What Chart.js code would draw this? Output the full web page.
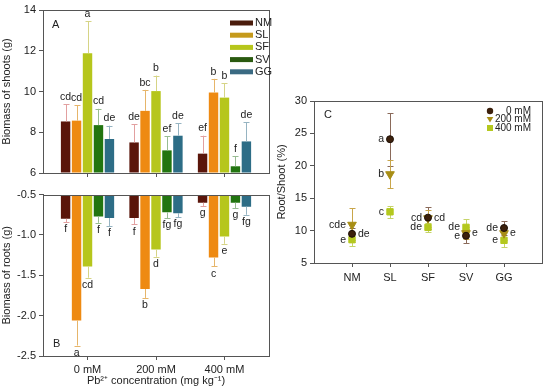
<!DOCTYPE html>
<html>
<head>
<meta charset="utf-8">
<script src="https://cdn.jsdelivr.net/npm/chart.js@4"></script>
<style>
  body { margin: 0; background: #fff; width: 550px; height: 391px; position: relative; overflow: hidden; }
  canvas { position: absolute; }
</style>
</head>
<body>
<canvas id="shoots" width="285" height="185" style="left:0;top:0"></canvas>
<canvas id="roots" width="285" height="206" style="left:0;top:185px"></canvas>
<canvas id="ratio" width="275" height="220" style="left:275px;top:90px"></canvas>
<script>
// groups and plants
const groups = ["0 mM", "200 mM", "400 mM"];
const plants = ["NM", "SL", "SF", "SV", "GG"];

// shoot biomass (g), per plant over the 3 Pb levels
const shootNM = [8.53, 7.5, 6.95];
const shootSL = [8.57, 9.05, 9.95];
const shootSF = [11.88, 10.02, 9.7];
const shootSV = [8.35, 7.11, 6.33];
const shootGG = [7.67, 7.83, 7.55];
const shootErrNM = [0.85, 0.9, 0.88];
const shootErrSL = [0.76, 1.03, 0.67];
const shootErrSF = [1.58, 0.76, 0.7];
const shootErrSV = [0.8, 0.69, 0.5];
const shootErrGG = [0.65, 0.62, 0.95];
const shootLetNM = ["cd", "de", "ef"];
const shootLetSL = ["cd", "bc", "b"];
const shootLetSF = ["a", "b", "b"];
const shootLetSV = ["cd", "ef", "f"];
const shootLetGG = ["de", "de", "de"];

// root biomass (g)
const rootNM = [-0.8, -0.79, -0.6];
const rootSL = [-2.06, -1.67, -1.28];
const rootSF = [-1.39, -1.18, -1.02];
const rootSV = [-0.77, -0.72, -0.6];
const rootGG = [-0.79, -0.73, -0.65];
const rootErrNM = [0.04, 0.08, 0.04];
const rootErrSL = [0.31, 0.11, 0.11];
const rootErrSF = [0.14, 0.09, 0.09];
const rootErrSV = [0.08, 0.07, 0.07];
const rootErrGG = [0.1, 0.05, 0.1];
const rootLetNM = ["f", "f", "g"];
const rootLetSL = ["a", "b", "c"];
const rootLetSF = ["cd", "d", "e"];
const rootLetSV = ["f", "fg", "g"];
const rootLetGG = ["f", "fg", "fg"];

// root/shoot ratio (%), per Pb level over the 5 plants
const ratio0 = [9.5, 24.1, 12.0, 9.2, 10.4];
const ratio200 = [10.9, 18.7, 11.9, 9.6, 9.6];
const ratio400 = [8.6, 12.9, 10.5, 10.5, 8.5];
const ratioErr0 = [0.9, 4.1, 1.7, 1.1, 1.1];
const ratioErr200 = [2.6, 2.2, 1.3, 0.9, 1.0];
const ratioErr400 = [1.0, 0.9, 0.7, 1.3, 1.1];
const ratioLet0 = ["de", "a", "cd", "e", "de"];
const ratioLet200 = ["cde", "b", "cd", "e", "e"];
const ratioLet400 = ["e", "c", "de", "de", "e"];

const FONT = "'Liberation Sans', Arial, sans-serif";
Chart.defaults.font.family = FONT;
Chart.defaults.font.size = 11;
Chart.defaults.color = "#222";

const barColors = ["#5a150a", "#ee8a12", "#b6c61c", "#227510", "#2d6d86"];
const legendColors = ["#4a1c0c", "#c59a1c", "#b6c61c", "#2a5a10", "#3a6a82"];
const errColors = ["#e2a0a0", "#e6b56a", "#d6d486", "#98bc92", "#96b4c2"];

const boxPlugin = {
  id: "box",
  afterDraw(chart) {
    const a = chart.chartArea;
    const ctx = chart.ctx;
    ctx.save();
    ctx.strokeStyle = "#555";
    ctx.lineWidth = 1;
    ctx.strokeRect(Math.round(a.left) + 0.5, Math.round(a.top) + 0.5,
      Math.round(a.right - a.left), Math.round(a.bottom - a.top));
    ctx.restore();
  },
};

const panelPlugin = {
  id: "panel",
  afterDraw(chart, args, opts) {
    const a = chart.chartArea;
    const ctx = chart.ctx;
    ctx.save();
    ctx.font = "11px " + FONT;
    ctx.fillStyle = "#222";
    ctx.textBaseline = "middle";
    ctx.fillText(opts.text, a.left + opts.dx, a.top + opts.dy);
    ctx.restore();
  },
};

const errBarPlugin = {
  id: "errbars",
  afterDatasetsDraw(chart, args, opts) {
    const ctx = chart.ctx;
    const y = chart.scales.y;
    ctx.save();
    chart.data.datasets.forEach((ds, i) => {
      const meta = chart.getDatasetMeta(i);
      meta.data.forEach((bar, j) => {
        const v = ds.data[j].y;
        const end = y.getPixelForValue(v + opts.dir * opts.errors[i][j]);
        const x = Math.round(bar.x) + 0.5;
        ctx.strokeStyle = errColors[i];
        ctx.lineWidth = 1;
        ctx.beginPath();
        ctx.moveTo(x, bar.y);
        ctx.lineTo(x, end);
        ctx.moveTo(x - 3, Math.round(end) + 0.5);
        ctx.lineTo(x + 3, Math.round(end) + 0.5);
        ctx.stroke();
        ctx.fillStyle = "#222";
        ctx.font = "10.5px " + FONT;
        ctx.textAlign = "center";
        ctx.textBaseline = opts.dir > 0 ? "bottom" : "top";
        ctx.fillText(opts.letters[i][j], bar.x, end - opts.dir * 2);
      });
    });
    ctx.restore();
  },
};

const barLegendPlugin = {
  id: "barLegend",
  afterDraw(chart) {
    const a = chart.chartArea;
    const ctx = chart.ctx;
    ctx.save();
    ctx.font = "11px " + FONT;
    ctx.textBaseline = "middle";
    plants.forEach((p, i) => {
      const yy = a.top + 13 + i * 12.2;
      ctx.fillStyle = legendColors[i];
      ctx.fillRect(a.right - 39, yy - 2.5, 23, 5);
      ctx.fillStyle = "#222";
      ctx.fillText(p, a.right - 14, yy);
    });
    ctx.restore();
  },
};

function xGroupScale(showLabels) {
  return {
    type: "linear",
    min: -0.65,
    max: 2.65,
    offset: false,
    afterBuildTicks: (s) => { s.ticks = groups.map((g, i) => ({ value: i })); },
    afterFit: (s) => { s.height = showLabels ? 35 : 12; },
    ticks: {
      display: showLabels,
      padding: 3,
      callback: (v) => groups[v],
      font: { size: 11 },
    },
    grid: { offset: false, drawOnChartArea: false, tickLength: 4, color: "#555" },
    border: { color: "#555" },
    title: {
      display: showLabels,
      text: "Pb²⁺ concentration (mg kg⁻¹)",
      font: { size: 11 },
      padding: { top: 2, bottom: 3 },
    },
  };
}

function barDatasets(means, base) {
  return means.map((arr, i) => ({
    label: plants[i],
    data: arr.map((v, j) => ({ x: j, y: v })),
    backgroundColor: barColors[i],
    borderWidth: 0,
    base: base,
    categoryPercentage: 0.8,
    barPercentage: 0.86,
  }));
}

new Chart(document.getElementById("shoots"), {
  type: "bar",
  data: {
    datasets: barDatasets([shootNM, shootSL, shootSF, shootSV, shootGG], 6),
  },
  options: {
    responsive: false,
    animation: false,
    events: [],
    layout: { padding: { top: 10, right: 16, left: 0, bottom: 0 } },
    plugins: {
      legend: { display: false },
      tooltip: { enabled: false },
      errbars: {
        dir: 1,
        errors: [shootErrNM, shootErrSL, shootErrSF, shootErrSV, shootErrGG],
        letters: [shootLetNM, shootLetSL, shootLetSF, shootLetSV, shootLetGG],
      },
      panel: { text: "A", dx: 9, dy: 15 },
    },
    scales: {
      x: xGroupScale(false),
      y: {
        min: 6,
        max: 14,
        afterFit: (s) => { s.width = 43; },
        ticks: { stepSize: 2, padding: 3, font: { size: 11 } },
        grid: { drawOnChartArea: false, tickLength: 4, color: "#555" },
        border: { color: "#555" },
        title: { display: true, text: "Biomass of shoots (g)", font: { size: 11 }, padding: { top: 0, bottom: 2 } },
      },
    },
  },
  plugins: [boxPlugin, errBarPlugin, barLegendPlugin, panelPlugin],
});

new Chart(document.getElementById("roots"), {
  type: "bar",
  data: {
    datasets: barDatasets([rootNM, rootSL, rootSF, rootSV, rootGG], -0.5),
  },
  options: {
    responsive: false,
    animation: false,
    events: [],
    layout: { padding: { top: 8, right: 16, left: 0, bottom: 0 } },
    plugins: {
      legend: { display: false },
      tooltip: { enabled: false },
      errbars: {
        dir: -1,
        errors: [rootErrNM, rootErrSL, rootErrSF, rootErrSV, rootErrGG],
        letters: [rootLetNM, rootLetSL, rootLetSF, rootLetSV, rootLetGG],
      },
      panel: { text: "B", dx: 10, dy: 149 },
    },
    scales: {
      x: xGroupScale(true),
      y: {
        min: -2.5,
        max: -0.5,
        afterFit: (s) => { s.width = 43; },
        ticks: { stepSize: 0.5, padding: 3, font: { size: 11 }, callback: (v) => v.toFixed(1) },
        grid: { drawOnChartArea: false, tickLength: 4, color: "#555" },
        border: { color: "#555" },
        title: { display: true, text: "Biomass of roots (g)", font: { size: 11 }, padding: { top: 0, bottom: 2 } },
      },
    },
  },
  plugins: [boxPlugin, errBarPlugin, panelPlugin],
});

// panel C
const ratioColors = ["#3c200c", "#a88e16", "#b4c81e"];
const ratioErrColors = ["#8a6a5a", "#c9a64a", "#c6d46a"];
const ratioSides = [
  [1, -1, -1, -1, -1],
  [-1, -1, 1, 1, 1],
  [-1, -1, -1, -1, -1],
];

const ratioErrPlugin = {
  id: "ratioErr",
  beforeDatasetsDraw(chart, args, opts) {
    const ctx = chart.ctx;
    const y = chart.scales.y;
    ctx.save();
    ctx.lineWidth = 1;
    chart.data.datasets.forEach((ds, i) => {
      const meta = chart.getDatasetMeta(i);
      meta.data.forEach((pt, j) => {
        const v = ds.data[j].y;
        const e = opts.errors[i][j];
        const top = Math.round(y.getPixelForValue(v + e)) + 0.5;
        const bot = Math.round(y.getPixelForValue(v - e)) + 0.5;
        const x = Math.round(pt.x) + 0.5;
        ctx.strokeStyle = ratioErrColors[i];
        ctx.beginPath();
        ctx.moveTo(x, top); ctx.lineTo(x, bot);
        ctx.moveTo(x - 3, top); ctx.lineTo(x + 3, top);
        ctx.moveTo(x - 3, bot); ctx.lineTo(x + 3, bot);
        ctx.stroke();
      });
    });
    ctx.restore();
  },
  afterDatasetsDraw(chart, args, opts) {
    const ctx = chart.ctx;
    ctx.save();
    ctx.font = "10.5px " + FONT;
    ctx.fillStyle = "#222";
    ctx.textBaseline = "middle";
    chart.data.datasets.forEach((ds, i) => {
      const meta = chart.getDatasetMeta(i);
      meta.data.forEach((pt, j) => {
        const side = ratioSides[i][j];
        ctx.textAlign = side < 0 ? "right" : "left";
        ctx.fillText(opts.letters[i][j], pt.x + side * 6, pt.y);
      });
    });
    ctx.restore();
  },
};

const ratioLegendPlugin = {
  id: "ratioLegend",
  afterDraw(chart) {
    const a = chart.chartArea;
    const ctx = chart.ctx;
    ctx.save();
    ctx.font = "10px " + FONT;
    ctx.textBaseline = "middle";
    ctx.textAlign = "right";
    chart.data.datasets.forEach((ds, i) => {
      const yy = a.top + 10 + i * 8.5;
      const mx = a.right - 52;
      ctx.fillStyle = ratioColors[i];
      ctx.beginPath();
      if (i === 0) {
        ctx.arc(mx, yy, 3.2, 0, Math.PI * 2);
      } else if (i === 1) {
        ctx.moveTo(mx - 3.3, yy - 2.4); ctx.lineTo(mx + 3.3, yy - 2.4); ctx.lineTo(mx, yy + 3);
        ctx.closePath();
      } else {
        ctx.rect(mx - 3, yy - 3, 6, 6);
      }
      ctx.fill();
      ctx.fillStyle = "#222";
      ctx.fillText(ds.label, a.right - 11, yy);
    });
    ctx.restore();
  },
};

const ratioSeries = [ratio0, ratio200, ratio400];
const pointStyles = ["circle", "triangle", "rect"];
const pointRadii = [3.5, 5, 4.5];

new Chart(document.getElementById("ratio"), {
  type: "scatter",
  data: {
    datasets: ratioSeries.map((arr, i) => ({
      label: groups[i],
      data: arr.map((v, j) => ({ x: j + 1, y: v })),
      pointStyle: pointStyles[i],
      rotation: i === 1 ? 180 : 0,
      pointRadius: pointRadii[i],
      backgroundColor: ratioColors[i],
      borderColor: i === 0 ? "#1e1006" : ratioColors[i],
      borderWidth: 1,
    })),
  },
  options: {
    responsive: false,
    animation: false,
    events: [],
    layout: { padding: { top: 11, right: 8, left: 0, bottom: 0 } },
    plugins: {
      legend: { display: false },
      tooltip: { enabled: false },
      ratioErr: {
        errors: [ratioErr0, ratioErr200, ratioErr400],
        letters: [ratioLet0, ratioLet200, ratioLet400],
      },
      panel: { text: "C", dx: 10, dy: 14 },
    },
    scales: {
      x: {
        type: "linear",
        min: 0,
        max: 6,
        afterBuildTicks: (s) => { s.ticks = plants.map((p, i) => ({ value: i + 1 })); },
        afterFit: (s) => { s.height = 47; },
        ticks: { padding: 4, font: { size: 11 }, callback: (v) => plants[v - 1] },
        grid: { drawOnChartArea: false, tickLength: 4, color: "#555" },
        border: { color: "#555" },
      },
      y: {
        min: 5,
        max: 30,
        afterFit: (s) => { s.width = 39; },
        ticks: { stepSize: 5, padding: 3, font: { size: 11 } },
        grid: { drawOnChartArea: false, tickLength: 4, color: "#555" },
        border: { color: "#555" },
        title: { display: true, text: "Root/Shoot (%)", font: { size: 11 }, padding: { top: 0, bottom: 2 } },
      },
    },
  },
  plugins: [boxPlugin, ratioErrPlugin, ratioLegendPlugin, panelPlugin],
});
</script>
</body>
</html>
